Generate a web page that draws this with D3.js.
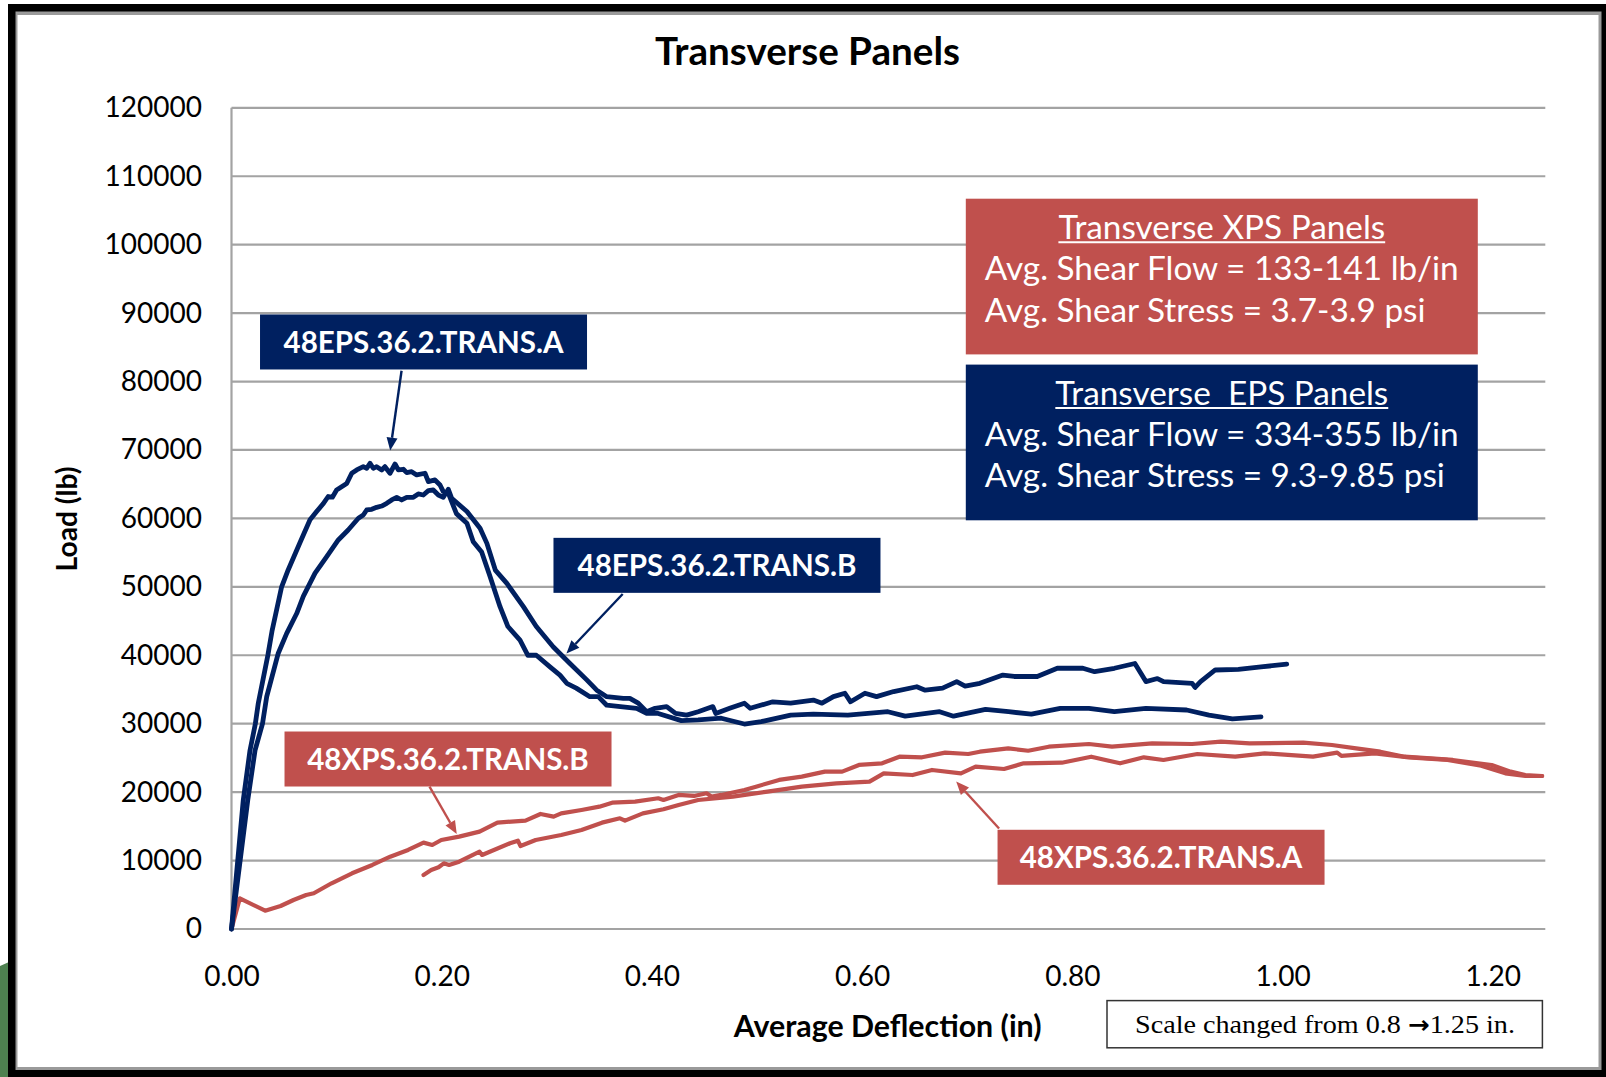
<!DOCTYPE html>
<html>
<head>
<meta charset="utf-8">
<script src="https://cdn.jsdelivr.net/npm/d3@7"></script>
<style>
  html, body { margin: 0; padding: 0; background: #fff; }
  svg { display: block; }
  text { white-space: pre; }
</style>
</head>
<body>
<svg id="chart" width="1606" height="1077"></svg>
<script>
// ---- Data: load (lb) vs average deflection (in) ----
const xTickValues = [0, 0.2, 0.4, 0.6, 0.8, 1.0, 1.2];
const yTickValues = [0, 10000, 20000, 30000, 40000, 50000, 60000, 70000, 80000, 90000, 100000, 110000, 120000];

const eps36TransA = [
  [0,0],[0.0112,18850],[0.0176,26100],[0.0227,30000],[0.0255,33000],[0.0346,40000],[0.0385,43500],
  [0.0477,50000],[0.054,52500],[0.065,56400],[0.0747,59800],[0.081,61000],[0.087,62100],[0.092,63200],
  [0.096,63100],[0.100,64150],[0.1096,65100],[0.1144,66600],[0.1191,67080],[0.1254,67560],[0.1286,67320],
  [0.1318,68050],[0.1349,67320],[0.1381,67560],[0.1429,67080],[0.146,67560],[0.1508,66600],[0.1556,67950],
  [0.1587,67080],[0.1635,67180],[0.1667,66690],[0.1714,66830],[0.1762,66350],[0.1841,66600],[0.1873,65380],
  [0.1936,65620],[0.1984,64890],[0.2015,63920],[0.2063,63680],[0.214,60700],[0.224,59300],[0.230,56600],
  [0.238,55100],[0.246,51500],[0.2555,47100],[0.263,44200],[0.2745,42200],[0.282,40000],[0.290,40000],
  [0.303,38300],[0.3125,37100],[0.319,35900],[0.328,35200],[0.341,33950],[0.349,33950],[0.357,32700],
  [0.370,32500],[0.3855,32250],[0.395,31500],[0.406,31500],[0.428,30450],[0.444,30550],[0.466,30800],
  [0.488,29950],[0.504,30300],[0.532,31250],[0.5536,31400],[0.5864,31250],[0.6245,31750],[0.641,31100],
  [0.6737,31750],[0.687,31100],[0.7174,32100],[0.7393,31750],[0.761,31400],[0.7885,32250],[0.8158,32250],
  [0.840,31750],[0.870,32250],[0.9087,32000],[0.930,31250],[0.9523,30700],[0.9795,31000]
];

const eps36TransB = [
  [0,0],[0.0155,18850],[0.0224,26100],[0.0295,30000],[0.0335,33950],[0.0445,40300],[0.0525,43200],
  [0.062,46100],[0.0683,48600],[0.0795,52000],[0.0906,54400],[0.1016,56850],[0.111,58300],[0.1207,60020],
  [0.1254,60500],[0.1286,61230],[0.1334,61330],[0.1381,61620],[0.1429,61810],[0.1477,62200],[0.1524,62690],
  [0.1572,63080],[0.1619,62690],[0.1667,63080],[0.173,63080],[0.1777,63570],[0.1825,63420],[0.1873,64050],
  [0.192,64150],[0.1968,63420],[0.2015,63080],[0.2063,64250],[0.2095,62940],[0.224,61000],[0.2365,58550],
  [0.243,56350],[0.251,52450],[0.262,50500],[0.2777,47100],[0.290,44200],[0.306,41250],[0.322,38800],
  [0.338,36400],[0.3475,34900],[0.357,33950],[0.3728,33700],[0.379,33700],[0.387,33000],[0.395,31750],
  [0.403,32250],[0.414,32500],[0.4225,31500],[0.433,31250],[0.444,31750],[0.458,32500],[0.4607,31500],
  [0.474,32250],[0.488,33000],[0.4935,32250],[0.515,33200],[0.532,33000],[0.5536,33450],[0.5618,33000],
  [0.5727,33950],[0.5836,34450],[0.589,33200],[0.6027,34450],[0.6137,33950],[0.630,34700],[0.652,35400],
  [0.660,34900],[0.6765,35200],[0.690,36150],[0.698,35500],[0.712,35900],[0.7339,37100],[0.7447,36900],
  [0.7666,36900],[0.7857,38100],[0.810,38100],[0.8212,37600],[0.840,38100],[0.8595,38800],[0.870,36150],
  [0.881,36600],[0.8868,36150],[0.914,35900],[0.9168,35300],[0.922,36150],[0.936,37850],[0.958,37950],
  [0.9795,38300],[1.004,38700]
];

const xps36TransA = [
  [0.1827,7890],[0.19,8620],[0.197,9020],[0.202,9600],[0.207,9360],[0.2166,9840],[0.236,11300],
  [0.2384,10820],[0.265,12530],[0.2725,12910],[0.275,12130],[0.2894,13010],[0.3137,13740],[0.333,14470],
  [0.3525,15540],[0.3696,16180],[0.3744,15830],[0.3914,16900],[0.411,17490],[0.4254,18120],[0.444,18850],
  [0.477,19340],[0.51,20070],[0.5426,20800],[0.5755,21290],[0.607,21530],[0.6206,22750],[0.648,22500],
  [0.6665,23240],[0.694,22750],[0.708,23720],[0.735,23380],[0.7537,24210],[0.790,24300],[0.818,25180],
  [0.8454,24210],[0.868,25090],[0.8867,24700],[0.919,25570],[0.955,25180],[0.983,25670],[1.029,25180],
  [1.052,25770],[1.056,25290],[1.088,25670],[1.120,25090],[1.157,24700],[1.189,23870],[1.212,22750],
  [1.231,22360],[1.247,22360]
];

const xps36TransB = [
  [0,0],[0.0079,4480],[0.032,2680],[0.0467,3360],[0.059,4240],[0.071,4970],[0.0783,5220],[0.0952,6680],
  [0.1147,8140],[0.134,9360],[0.151,10570],[0.168,11550],[0.1827,12620],[0.191,12280],[0.1996,13010],
  [0.2166,13500],[0.236,14230],[0.253,15550],[0.2797,15840],[0.294,16810],[0.3065,16420],[0.3137,16900],
  [0.333,17390],[0.350,17880],[0.3622,18460],[0.384,18610],[0.406,19100],[0.411,18850],[0.4254,19590],
  [0.440,19440],[0.452,19830],[0.457,19340],[0.466,19590],[0.488,20320],[0.499,20800],[0.521,21780],
  [0.5426,22260],[0.5645,22990],[0.581,22990],[0.597,23970],[0.619,24210],[0.6355,25180],[0.657,25090],
  [0.679,25770],[0.701,25570],[0.712,25910],[0.739,26400],[0.758,26050],[0.7776,26640],[0.8158,27030],
  [0.8377,26640],[0.876,27130],[0.914,27030],[0.9414,27370],[0.9687,27130],[1.0197,27230],[1.047,26890],
  [1.070,26400],[1.093,25910],[1.116,25180],[1.162,24700],[1.199,23970],[1.217,22990],[1.231,22500],
  [1.247,22360]
];

// Specimen call-outs: label text, box centre (data units) and the point the arrow touches
const specimenLabels = [
  { text: "48EPS.36.2.TRANS.A", kind: "eps", box: [0.1827, 85780], from: [0.1618, 81570], to: [0.151, 69910] },
  { text: "48EPS.36.2.TRANS.B", kind: "eps", box: [0.4619, 53140], from: [0.3722, 48950], to: [0.3187, 40270] },
  { text: "48XPS.36.2.TRANS.B", kind: "xps", box: [0.2060, 24840], from: [0.1884, 20810], to: [0.2143, 13880] },
  { text: "48XPS.36.2.TRANS.A", kind: "xps", box: [0.8844, 10480], from: [0.7303, 14690], to: [0.6895, 21540] }
];

const xpsSummary = ["Transverse XPS Panels", "Avg. Shear Flow = 133-141 lb/in", "Avg. Shear Stress = 3.7-3.9 psi"];
const epsSummary = ["Transverse  EPS Panels", "Avg. Shear Flow = 334-355 lb/in", "Avg. Shear Stress = 9.3-9.85 psi"];
const scaleNote = ["Scale changed from 0.8 ", "\u2192", "1.25 in."];

// ---- Styling ----
const NAVY = "#002060";
const RED = "#C0504D";
const GRID = "#a3a3a3";
const FONT = "Lato, 'Open Sans', sans-serif";

const svg = d3.select("#chart");

// Size a text element so that its rendered width equals w
function fitWidth(sel, w) {
  const fs = parseFloat(sel.attr("font-size"));
  const len = sel.node().getComputedTextLength();
  sel.attr("font-size", fs * w / len);
  return fs * w / len;
}

// ---- Page frame ----
svg.append("rect").attr("width", 1606).attr("height", 1077).attr("fill", "#fff");
svg.append("path").attr("d", "M0,966 L9,962 L9,1077 L0,1077 Z").attr("fill", "#4e8150");
svg.append("rect").attr("x", 8).attr("y", 4).attr("width", 1598).attr("height", 1073).attr("fill", "#000");
svg.append("rect").attr("x", 15.5).attr("y", 11.5).attr("width", 1586).attr("height", 1058.5).attr("fill", "#9a9a9a");
svg.append("rect").attr("x", 17.5).attr("y", 15).attr("width", 1581).attr("height", 1052).attr("fill", "#fff");

// ---- Scales ----
const x = d3.scaleLinear().domain([0, 1.25]).range([231.5, 1545.3]);
const y = d3.scaleLinear().domain([0, 120000]).range([929, 107.8]);

// Horizontal gridlines and the value axis line
svg.append("g").selectAll("line").data(yTickValues).join("line")
  .attr("x1", x(0)).attr("x2", x(1.25))
  .attr("y1", d => y(d)).attr("y2", d => y(d))
  .attr("stroke", GRID).attr("stroke-width", 2.2);
svg.append("line")
  .attr("x1", x(0)).attr("x2", x(0)).attr("y1", y(0)).attr("y2", y(120000))
  .attr("stroke", GRID).attr("stroke-width", 2.2);

// Axes
const yAxisG = svg.append("g").attr("transform", `translate(${x(0)},0)`)
  .call(d3.axisLeft(y).tickValues(yTickValues).tickSize(0).tickPadding(29.5).tickFormat(d3.format("d")));
const xAxisG = svg.append("g").attr("transform", `translate(0,${y(0)})`)
  .call(d3.axisBottom(x).tickValues(xTickValues).tickSize(0).tickPadding(37).tickFormat(d3.format(".2f")));
[yAxisG, xAxisG].forEach(g => {
  g.select(".domain").remove();
  g.selectAll("text").attr("font-family", FONT).attr("font-size", 28).attr("fill", "#000");
});

// Title and axis titles
const title = svg.append("text").attr("x", 807.5).attr("y", 65).attr("text-anchor", "middle")
  .attr("font-family", FONT).attr("font-weight", 700).attr("font-size", 34).attr("fill", "#000")
  .text("Transverse Panels");
fitWidth(title, 305);

const xTitle = svg.append("text").attr("x", 887.6).attr("y", 1037).attr("text-anchor", "middle")
  .attr("font-family", FONT).attr("font-weight", 700).attr("font-size", 28).attr("fill", "#000")
  .text("Average Deflection (in)");
fitWidth(xTitle, 308);

const yTitle = svg.append("text").attr("transform", "translate(77,519) rotate(-90)").attr("text-anchor", "middle")
  .attr("font-family", FONT).attr("font-weight", 700).attr("font-size", 26).attr("fill", "#000")
  .text("Load (lb)");
fitWidth(yTitle, 105);

// ---- Load-deflection curves ----
const line = d3.line().x(d => x(d[0])).y(d => y(d[1]));
const series = [
  { data: xps36TransB, color: RED, width: 4.2 },
  { data: xps36TransA, color: RED, width: 4.2 },
  { data: eps36TransA, color: NAVY, width: 4.8 },
  { data: eps36TransB, color: NAVY, width: 4.8 }
];
svg.append("g").selectAll("path").data(series).join("path")
  .attr("d", d => line(d.data))
  .attr("fill", "none")
  .attr("stroke", d => d.color)
  .attr("stroke-width", d => d.width)
  .attr("stroke-linejoin", "round")
  .attr("stroke-linecap", "round");

// ---- Specimen call-outs ----
const BOX_W = 327, BOX_H = 55;
const callouts = svg.append("g");
let labelFont = null;
specimenLabels.forEach(lab => {
  const col = lab.kind === "eps" ? NAVY : RED;
  const x0 = x(lab.from[0]), y0 = y(lab.from[1]);
  const x1 = x(lab.to[0]), y1 = y(lab.to[1]);
  const dx = x1 - x0, dy = y1 - y0, len = Math.hypot(dx, dy);
  const ux = dx / len, uy = dy / len;
  const headL = 13, headW = 5.5;
  const bx = x1 - ux * headL, by = y1 - uy * headL;
  callouts.append("line").attr("x1", x0).attr("y1", y0).attr("x2", bx).attr("y2", by)
    .attr("stroke", col).attr("stroke-width", 2.4);
  callouts.append("polygon")
    .attr("points", [[x1, y1], [bx - uy * headW, by + ux * headW], [bx + uy * headW, by - ux * headW]].map(p => p.join(",")).join(" "))
    .attr("fill", col);

  const cx = x(lab.box[0]), cy = y(lab.box[1]);
  callouts.append("rect").attr("x", cx - BOX_W / 2).attr("y", cy - BOX_H / 2)
    .attr("width", BOX_W).attr("height", BOX_H).attr("fill", col);
  const t = callouts.append("text").attr("x", cx).attr("y", cy).attr("dy", "0.36em")
    .attr("text-anchor", "middle").attr("font-family", FONT).attr("font-weight", 700)
    .attr("font-size", labelFont || 26).attr("fill", "#fff").text(lab.text);
  if (!labelFont) labelFont = fitWidth(t, 280);
});

// ---- Summary boxes ----
function summaryBox(lines, top, fill) {
  const left = 965.8, w = 512, h = 155.7;
  const g = svg.append("g");
  g.append("rect").attr("x", left).attr("y", top).attr("width", w).attr("height", h).attr("fill", fill);
  const head = g.append("text").attr("x", left + w / 2).attr("y", top + 40.6).attr("text-anchor", "middle")
    .attr("font-family", FONT).attr("font-size", summaryFont).attr("fill", "#fff").text(lines[0]);
  const hl = head.node().getComputedTextLength();
  g.append("line").attr("x1", left + w / 2 - hl / 2).attr("x2", left + w / 2 + hl / 2)
    .attr("y1", top + 43.5).attr("y2", top + 43.5).attr("stroke", "#fff").attr("stroke-width", 2);
  [lines[1], lines[2]].forEach((s, i) => {
    g.append("text").attr("x", left + 19).attr("y", top + 81.3 + i * 41.5)
      .attr("font-family", FONT).attr("font-size", summaryFont).attr("fill", "#fff").text(s);
  });
}
const probe = svg.append("text").attr("font-family", FONT).attr("font-size", 30).text(xpsSummary[1]);
const summaryFont = fitWidth(probe, 474);
probe.remove();
summaryBox(xpsSummary, 198.7, RED);
summaryBox(epsSummary, 364.6, NAVY);

// ---- Scale note ----
svg.append("rect").attr("x", 1107).attr("y", 1000.6).attr("width", 435.4).attr("height", 47.2)
  .attr("fill", "#fff").attr("stroke", "#333").attr("stroke-width", 1.5);
const note = svg.append("text").attr("x", 1135).attr("y", 1033)
  .attr("font-family", "'Liberation Serif', 'Times New Roman', serif").attr("font-size", 26)
  .attr("textLength", 380).attr("lengthAdjust", "spacingAndGlyphs").attr("fill", "#000");
note.append("tspan").text(scaleNote[0]);
note.append("tspan").attr("font-family", "'DejaVu Sans', sans-serif").attr("font-weight", 700)
  .attr("font-size", 24).text(scaleNote[1]);
note.append("tspan").text(scaleNote[2]);
</script>
</body>
</html>
